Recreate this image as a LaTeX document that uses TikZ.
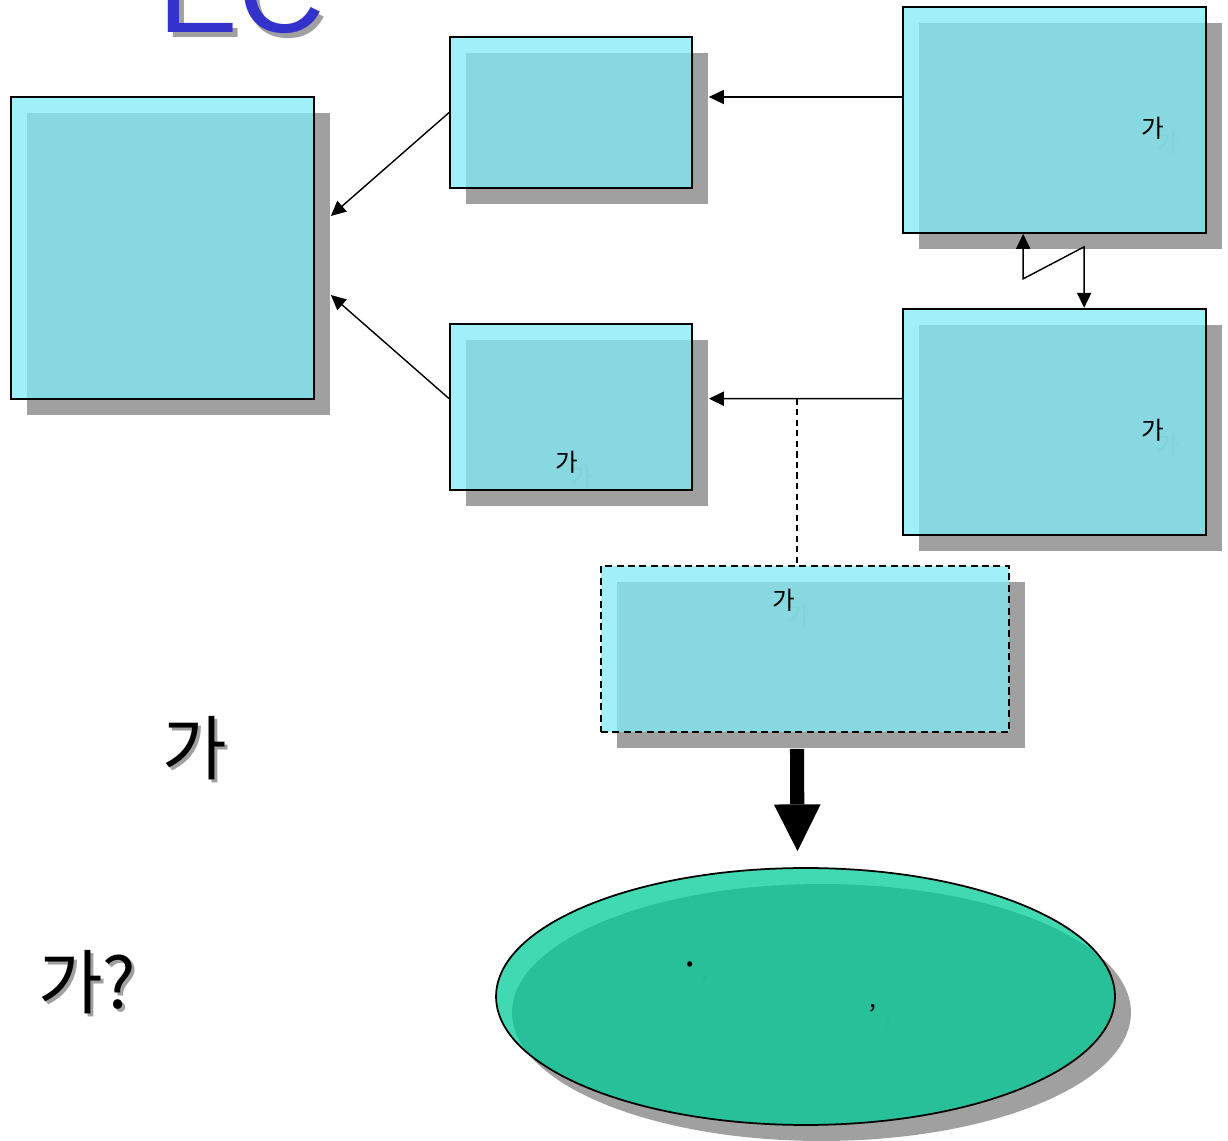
\documentclass[tikz,border=0pt]{standalone}
\usepackage{fontspec}
\setmainfont{Liberation Sans}
\newfontfamily\hangul{Noto Sans CJK KR}
\usepackage{tikz}
\usetikzlibrary{positioning,arrows.meta,calc,shapes.geometric,shadows}
\definecolor{cian}{HTML}{80EBF8}
\definecolor{menta}{HTML}{00CC97}
\definecolor{sombra}{HTML}{A0A0A0}
\definecolor{tinta}{HTML}{3333CC}
\definecolor{fantasma}{HTML}{84D2DD}
\definecolor{fantasmav}{HTML}{26BC95}
% texto con su sombra desplazada detras
\newcommand{\consombra}[3]{\makebox[0pt][l]{\hspace*{#1}\raisebox{-#1}[0pt][0pt]{\textcolor{#2}{#3}}}#3}

\begin{document}
\begin{tikzpicture}[
  x=0.02cm, y=-0.02cm,
  caja/.style={draw=black, line width=1pt, fill=cian, fill opacity=0.75, text opacity=1, inner sep=0pt,
    drop shadow={shadow xshift=0.32cm, shadow yshift=-0.32cm, fill=sombra, opacity=1}},
  elipse/.style={caja, ellipse, fill=menta},
  etq/.style={font=\hangul\fontsize{14}{16}\selectfont, inner sep=0pt},
  grande/.style={font=\hangul\fontsize{40}{44}\selectfont, inner sep=0pt},
  titulo/.style={font=\fontsize{68}{70}\selectfont, text=tinta, inner sep=0pt},
  flecha/.style={-{Triangle[length=8.5pt, width=8pt]}, line width=0.8pt},
  doble/.style={{Triangle[length=8.5pt, width=8pt]}-{Triangle[length=8.5pt, width=8pt]}, line width=0.8pt},
  punteada/.style={dash pattern=on 3.5pt off 2.5pt, line width=0.8pt},
  gruesa/.style={-{Triangle[length=26.6pt, width=26.6pt, line width=0pt]}, line width=8pt}
]
\useasboundingbox (0,0) rectangle (1228,1141);

\node[titulo, anchor=base west] (ec) at (158,33) {\consombra{2.8pt}{sombra}{EC}};

\node[caja, minimum width=6.06cm, minimum height=6.04cm] (A) at (162.5,248) {};
\node[caja, minimum width=4.84cm, minimum height=3.02cm] (B) at (571,112.5) {};
\node[caja, minimum width=4.84cm, minimum height=3.32cm, below=2.68cm of B] (C) {};
\node[caja, minimum width=6.06cm, minimum height=4.52cm] (D) at (1054.5,120) {};
\node[caja, minimum width=6.06cm, minimum height=4.52cm, below=1.48cm of D] (E) {};
\node[caja, dash pattern=on 4pt off 2.5pt, minimum width=8.16cm, minimum height=3.32cm] (F) at (805,649) {};
\node[elipse, minimum width=12.38cm, minimum height=5.14cm] (mar) at (805.5,996.5) {};

\node[etq] (etqC) at (567,462) {\consombra{8.5pt}{fantasma}{가}};
\node[etq] (etqD) at (1153,128) {\consombra{8.5pt}{fantasma}{가}};
\node[etq] (etqE) at (1153,430) {\consombra{8.5pt}{fantasma}{가}};
\node[etq] (etqF) at (784,600) {\consombra{8.5pt}{fantasma}{가}};
\node[etq, font=\hangul\fontsize{22}{24}\selectfont] (punto) at (690,970) {\consombra{8.5pt}{fantasmav}{·}};
\node[etq] (coma) at (873,1008) {\consombra{8.5pt}{fantasmav}{,}};

\node[grande] (pre) at (195,748) {\consombra{1.7pt}{sombra}{가}};
\node[grande] (preg) at (87,982) {\consombra{1.7pt}{sombra}{가?}};

\draw[flecha] (B.west) -- ($(A.east)+(16,-32)$);
\draw[flecha] ($(C.west)+(0,-8)$) -- ($(A.east)+(16,47)$);
\draw[flecha] ($(D.west)+(0,-23)$) -- ($(B.east)+(16,-15.5)$);
\draw[flecha] ($(E.west)+(0,-23)$) -- coordinate[pos=0.544] (rama) ($(C.east)+(16,-8)$);
\draw[punteada] (rama) -- (rama |- F.north);
\draw[doble] ($(D.south west)+(121,0)$) -- ++(0,45) -- ($(E.north west)+(182,-61)$) -- ($(E.north west)+(182,0)$);

\draw[gruesa] ($(F.south)+(-8,16)$) -- ($(mar.north)+(-8,-16)$);
\end{tikzpicture}
\end{document}
